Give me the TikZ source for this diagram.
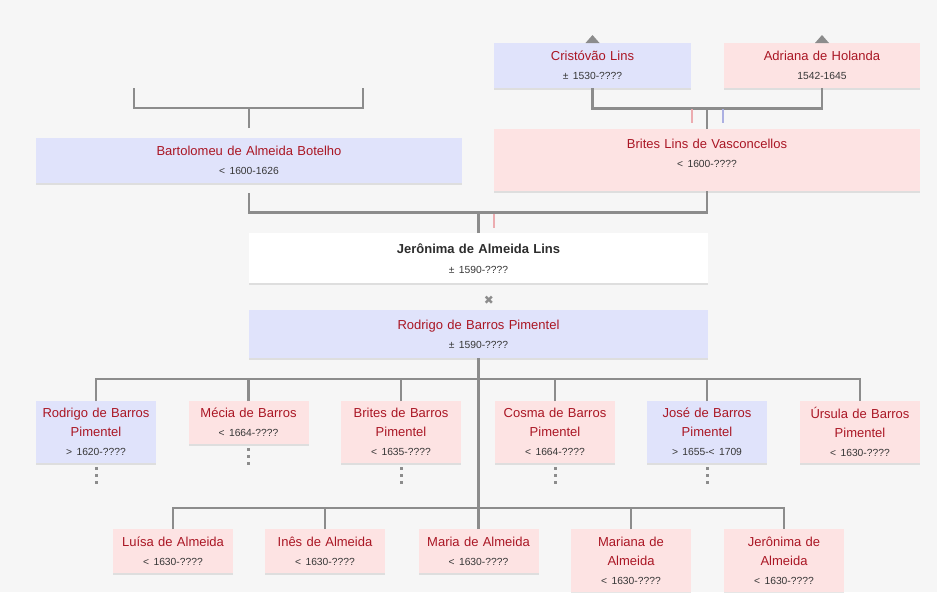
\documentclass[tikz,border=0pt]{standalone}
\usepackage{fontspec}
\setmainfont{Liberation Sans}
\newfontfamily\symbolfont{DejaVu Sans}
\usepackage{tikz}
\usetikzlibrary{positioning}
\usetikzlibrary{calc}
\usetikzlibrary{shadows}
\definecolor{backgray}{RGB}{246,246,246}
\definecolor{maleblue}{RGB}{224,227,251}
\definecolor{femalepink}{RGB}{253,227,227}
\definecolor{namered}{RGB}{170,22,36}
\definecolor{yeargray}{RGB}{55,55,55}
\definecolor{selfgray}{RGB}{45,45,45}
\definecolor{linegray}{RGB}{140,140,140}
\definecolor{tickpink}{RGB}{236,172,176}
\definecolor{tickblue}{RGB}{172,176,226}
\newcommand{\years}[1]{{\fontsize{10.3}{19}\selectfont\mdseries\color{yeargray}#1}}
\tikzstyle{person} = [rectangle, anchor=north, inner sep=0pt, align=center, text=namered, font=\fontsize{13}{19}\selectfont, drop shadow={shadow xshift=0pt, shadow yshift=-2pt, opacity=0.2}]
\tikzstyle{male} = [person, fill=maleblue]
\tikzstyle{female} = [person, fill=femalepink]
\tikzstyle{self} = [person, fill=white, text=selfgray, font=\fontsize{13}{20}\selectfont\bfseries]
\tikzstyle{child} = [text width=120pt]
\tikzstyle{link} = [draw=linegray, line width=2.7pt]
\tikzstyle{more} = [draw=linegray, line width=3pt, dash pattern=on 3pt off 4pt]
\tikzstyle{tick} = [line width=1.8pt]

\begin{document}
\begin{tikzpicture}[x=1pt,y=-1pt]
    \useasboundingbox (0,0) rectangle (937,592);
    \fill[backgray] (0,0) rectangle (937,592);

    % grandparents
    \node [male, text width=197pt, minimum height=45pt] (cris) at (592.5,43) {Cristóvão Lins\\\years{± 1530-????}};
    \node [female, text width=196pt, minimum height=45pt] (adri) at (822,43) {Adriana de Holanda\\\years{1542-1645}};
    \fill[linegray] ($(cris.north)+(-7,0)$) -- ($(cris.north)+(0,-8)$) -- ($(cris.north)+(7,0)$) -- cycle;
    \fill[linegray] ($(adri.north)+(-7,0)$) -- ($(adri.north)+(0,-8)$) -- ($(adri.north)+(7,0)$) -- cycle;

    % parents
    \node [female, text width=426pt, minimum height=62pt] (brit) at (707,129) {Brites Lins de Vasconcellos\\\years{< 1600-????}\\[-6pt]\mbox{}};
    \node [male, text width=426pt, minimum height=45pt] (bart) at (249,138) {Bartolomeu de Almeida Botelho\\\years{< 1600-1626}};
    \coordinate (bfa) at (134,88);
    \coordinate (bmo) at (363,88);

    \draw [link] (cris.south) -- ++(0,20) -| (adri.south);
    \draw [link] (brit.north) -- ++(0,-21);
    \draw [link] (bfa) -- ++(0,20) -| (bmo);
    \draw [link] ([yshift=10pt]bart.north) -- ++(0,-20);
    \draw [tick, tickpink] (692,109) -- (692,123);
    \draw [tick, tickblue] (723,109) -- (723,123);

    % self and spouse
    \node [self, text width=459pt, minimum height=50pt] (jer) at (478.5,233) {Jerônima de Almeida Lins\\\years{± 1590-????}};
    \node [male, text width=459pt, minimum height=48pt] (rod) at (478.5,310) {Rodrigo de Barros Pimentel\\\years{± 1590-????}};
    \node [text=linegray, font=\fontsize{12}{14}\selectfont\symbolfont] (wed) at (489,300) {✖};

    \draw [link] ([yshift=-10pt]bart.south) -- ++(0,19) -| (brit.south);
    \draw [link] (jer.north) -- ++(0,-21);
    \draw [tick, tickpink] (494,214) -- (494,228);

    % children
    \node [male, child, minimum height=62pt] (c1) at (96,401) {Rodrigo de Barros\\Pimentel\\\years{> 1620-????}};
    \node [female, child, minimum height=43pt] (c2) at (248.5,401) {Mécia de Barros\\\years{< 1664-????}};
    \node [female, child, minimum height=62pt] (c3) at (401,401) {Brites de Barros\\Pimentel\\\years{< 1635-????}};
    \node [female, child, minimum height=62pt] (c4) at (555,401) {Cosma de Barros\\Pimentel\\\years{< 1664-????}};
    \node [male, child, minimum height=62pt] (c5) at (707,401) {José de Barros\\Pimentel\\\years{> 1655-< 1709}};
    \node [female, child, minimum height=62pt] (c6) at (860,401) {Úrsula de Barros\\Pimentel\\\years{< 1630-????}};

    \node [female, child, minimum height=44pt] (d1) at (173,529) {Luísa de Almeida\\\years{< 1630-????}};
    \node [female, child, minimum height=44pt] (d2) at (325,529) {Inês de Almeida\\\years{< 1630-????}};
    \node [female, child, minimum height=44pt] (d3) at (478.5,529) {Maria de Almeida\\\years{< 1630-????}};
    \node [female, child, minimum height=63pt] (d4) at (631,529) {Mariana de\\Almeida\\\years{< 1630-????}};
    \node [female, child, minimum height=63pt] (d5) at (784,529) {Jerônima de\\Almeida\\\years{< 1630-????}};

    \coordinate (fam1) at (478.5,379);
    \coordinate (fam2) at (478.5,508);
    \draw [link] (rod.south) -- (fam2);
    \draw [link] (c1.north) |- (fam1) -| (c6.north);
    \foreach \c in {c2,c3,c4,c5}
        \draw [link] (\c.north) -- (\c.north |- fam1);
    \draw [link] (d1.north) |- (fam2) -| (d5.north);
    \foreach \d in {d2,d3,d4}
        \draw [link] (\d.north) -- (\d.north |- fam2);

    \foreach \c in {c1,c2,c3,c4,c5}
        \draw [more] ([yshift=-4pt]\c.south) -- ++(0,17);
\end{tikzpicture}
\end{document}
